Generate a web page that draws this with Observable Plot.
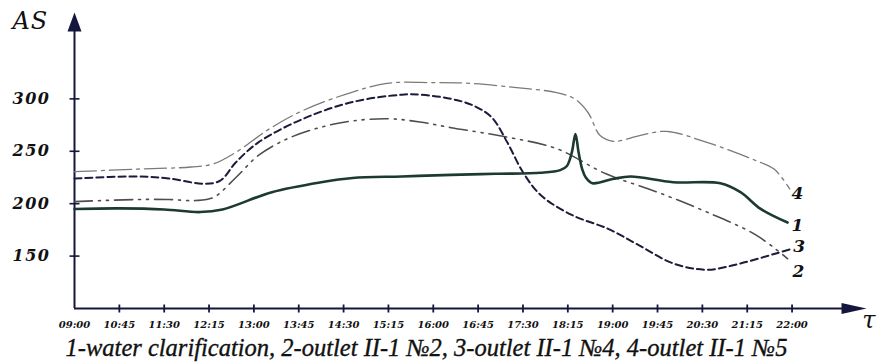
<!DOCTYPE html>
<html>
<head>
<meta charset="utf-8">
<script src="https://cdn.jsdelivr.net/npm/d3@7"></script>
<script src="https://cdn.jsdelivr.net/npm/@observablehq/plot@0.6"></script>
<style>
  html, body { margin: 0; padding: 0; background: #ffffff; }
  #chart svg text { font-family: "DejaVu Serif", serif; }
</style>
</head>
<body>
<div id="chart"></div>
<script>
// ---- data ----
const timeLabels = ["09:00","10:45","11:30","12:15","13:00","13:45","14:30","15:15","16:00","16:45","17:30","18:15","19:00","19:45","20:30","21:15","22:00"];
const yTicks = [150, 200, 250, 300];

// series 1 – water clarification (x = tick index, fractional between ticks)
const s1x = [0, 1, 2, 2.8, 3.3, 4.4, 5.5, 6.2, 7.3, 8.4, 9.4, 10.4, 10.83, 10.98, 11.09, 11.17, 11.24, 11.32, 11.4, 11.55, 12.0, 12.4, 13.35, 14.4, 14.85, 15.3, 15.9];
const s1y = [195, 195.5, 194.5, 192, 194.5, 211, 220.5, 224.5, 226, 227.5, 228.5, 229.5, 232, 236, 249, 266.5, 249, 233, 225, 219.5, 223.5, 226, 220.5, 219.5, 211, 195, 182];
// series 2 – outlet II-1 №2
const s2x = [0, 1.4, 2.1, 2.9, 3.25, 3.6, 4.1, 5.1, 6.2, 7.3, 7.7, 8.4, 8.9, 9.3, 9.65, 10.0, 10.4, 11.1, 11.9, 12.6, 13.35, 14.1, 14.85, 15.6, 16.0];
const s2y = [224, 226, 224, 219, 222, 239.5, 258.5, 281, 297, 304, 304, 300, 293.5, 282.5, 258.5, 230, 208, 189, 176, 160, 143, 137, 143, 152, 157];
// series 3 – outlet II-1 №4
const s3x = [0, 1.4, 2.1, 2.7, 3.1, 3.6, 4.1, 4.75, 5.5, 6.2, 7.0, 7.7, 8.4, 9.65, 10.75, 11.85, 13.0, 14.1, 15.2, 15.9];
const s3y = [202, 204, 204, 203, 206, 225, 246, 262, 273, 279, 281, 278, 272.5, 263.5, 252.5, 228.5, 211, 192, 170, 147.5];
// series 4 – outlet II-1 №5
const s4x = [0, 1.4, 2.6, 3.1, 3.6, 4.35, 5.1, 6.2, 7.0, 8.0, 8.75, 9.8, 10.75, 11.15, 11.45, 11.72, 12.02, 12.6, 13.2, 14.1, 15.2, 15.6, 15.95];
const s4y = [230.5, 233, 235, 238, 249, 271.5, 289, 306.5, 315, 315.5, 315, 311, 306, 300, 287, 265, 259.5, 265, 269, 258.5, 241, 233, 214];

// curve end labels
const endLabels = ["4", "1", "3", "2"];
const endLabelX = [16.12, 16.12, 16.16, 16.14];
const endLabelY = [209.3, 179, 159, 135.3];

const caption = "1-water clarification, 2-outlet II-1 №2, 3-outlet II-1 №4, 4-outlet II-1 №5";
const yLabel = "AS";
const xLabel = "τ";

const xMax = 17.66, yMin = 100, yMax = 382.4;

// ---- build tables ----
const toRows = (xs, ys) => xs.map((x, i) => ({x, y: ys[i]}));
const rows1 = toRows(s1x, s1y), rows2 = toRows(s2x, s2y), rows3 = toRows(s3x, s3y), rows4 = toRows(s4x, s4y);
const labelRows = endLabels.map((t, i) => ({t, x: endLabelX[i], y: endLabelY[i]}));
const tickIdx = timeLabels.map((_, i) => i);

const axisColor = "#15163d";

const hSeg = {draw(ctx) { ctx.moveTo(-5, 0); ctx.lineTo(5, 0); }};
const vSeg = {draw(ctx) { ctx.moveTo(0, -4); ctx.lineTo(0, 4); }};
const upHead = {draw(ctx) { ctx.moveTo(0, 0); ctx.lineTo(-7, 19); ctx.lineTo(7, 19); ctx.closePath(); }};
const rightHead = {draw(ctx) { ctx.moveTo(0, 0); ctx.lineTo(-25, -5.5); ctx.lineTo(-25, 5.5); ctx.closePath(); }};

const chart = Plot.plot({
  width: 877,
  height: 363,
  marginLeft: 74,
  marginRight: 11,
  marginTop: 12,
  marginBottom: 55,
  style: "background:#ffffff;",
  x: {domain: [0, xMax], label: null},
  y: {domain: [yMin, yMax], label: null},
  marks: [
    // axes
    Plot.ruleX([0], {y1: yMin, y2: yMax - 10, stroke: axisColor, strokeWidth: 2}),
    Plot.ruleY([yMin], {x1: 0, x2: xMax - 0.3, stroke: axisColor, strokeWidth: 2}),
    Plot.dot([0], {x: 0, y: yMax, symbol: upHead, fill: axisColor, stroke: "none"}),
    Plot.dot([0], {x: xMax, y: yMin, symbol: rightHead, fill: axisColor, stroke: "none"}),
    Plot.dot(yTicks, {x: 0, y: d => d, symbol: hSeg, stroke: axisColor, strokeWidth: 1.6}),
    Plot.dot(tickIdx.slice(1), {x: d => d, y: yMin, symbol: vSeg, stroke: axisColor, strokeWidth: 1.8}),
    Plot.axisY({ticks: yTicks, tickSize: 0, tickPadding: 24, fontSize: 16, fontWeight: "bold", fontStyle: "italic", fill: "#111"}),
    Plot.axisX({ticks: tickIdx, tickFormat: i => timeLabels[i], tickSize: 0, tickPadding: 12, fontSize: 10, fontWeight: "bold", fontStyle: "italic", fill: "#111"}),
    // series
    Plot.line(rows4, {x: "x", y: "y", curve: "catmull-rom", stroke: "#7a7a7a", strokeWidth: 1.3, strokeDasharray: "22,5,3,5"}),
    Plot.line(rows3, {x: "x", y: "y", curve: "catmull-rom", stroke: "#4e4e4e", strokeWidth: 1.6, strokeDasharray: "18,6,2,6,2,6"}),
    Plot.line(rows2, {x: "x", y: "y", curve: "catmull-rom", stroke: "#1b1c3a", strokeWidth: 2, strokeDasharray: "7,4"}),
    Plot.line(rows1, {x: "x", y: "y", curve: "catmull-rom", stroke: "#1c3a32", strokeWidth: 2.6}),
    // end labels
    Plot.text(labelRows, {x: "x", y: "y", text: "t", fontSize: 17, fontWeight: "bold", fontStyle: "italic", fill: "#111"}),
    // axis titles
    Plot.text([yLabel], {text: d => d, frameAnchor: "top-left", textAnchor: "start", lineAnchor: "top", dx: -62, dy: -1, fontSize: 24, fontStyle: "italic", fill: "#111"}),
    Plot.text([xLabel], {text: d => d, frameAnchor: "bottom-right", dx: 9, dy: 19, fontSize: 24, fontStyle: "italic", fill: "#111", textAnchor: "end"}),
    // caption
    Plot.text([caption], {text: d => d, frameAnchor: "bottom", textAnchor: "middle", dx: -44, dy: 47, fontSize: 24, fontStyle: "italic", fill: "#111", stroke: "#111", strokeWidth: 0.35})
  ]
});

// font styling applied inline so it wins over any inherited defaults
d3.select(chart).selectAll("text").each(function() {
  const t = this.textContent;
  const s = this.style;
  s.fill = "#111";
  if (t === caption) {
    s.fontFamily = "'Liberation Serif', serif"; s.fontStyle = "italic"; s.fontSize = "24.5px"; s.fontWeight = "normal";
  } else if (t === yLabel || t === xLabel) {
    s.fontFamily = "'DejaVu Serif', serif"; s.fontStyle = "italic"; s.fontSize = "24px"; s.fontWeight = "normal";
    if (t === yLabel) s.letterSpacing = "1px";
  } else if (endLabels.includes(t)) {
    s.fontFamily = "'DejaVu Serif', serif"; s.fontStyle = "italic"; s.fontSize = "17px"; s.fontWeight = "bold";
  } else if (timeLabels.includes(t)) {
    s.fontFamily = "'DejaVu Serif', serif"; s.fontStyle = "italic"; s.fontSize = "10px"; s.fontWeight = "bold";
  } else if (yTicks.map(String).includes(t)) {
    s.fontFamily = "'DejaVu Serif', serif"; s.fontStyle = "italic"; s.fontSize = "16px"; s.fontWeight = "bold"; s.letterSpacing = "1.5px";
  }
});
document.getElementById("chart").append(chart);
</script>
</body>
</html>
